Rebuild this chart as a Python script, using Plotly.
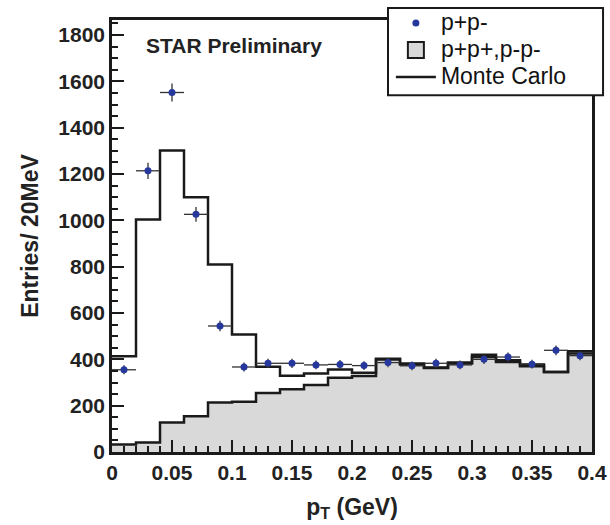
import numpy as np
import plotly.graph_objects as go

# bin centres of the 20 MeV pT bins (GeV)
pt_centers = [0.01, 0.03, 0.05, 0.07, 0.09, 0.11, 0.13, 0.15, 0.17, 0.19,
              0.21, 0.23, 0.25, 0.27, 0.29, 0.31, 0.33, 0.35, 0.37, 0.39]
bin_width = 0.02

# pi+pi- (data points)
unlike_sign = [355, 1214, 1552, 1026, 544, 367, 383, 383, 376, 378,
               373, 386, 372, 383, 376, 400, 410, 379, 439, 416]
unlike_err = [19, 35, 39, 32, 23, 19, 20, 20, 19, 19,
              19, 20, 19, 20, 19, 20, 20, 19, 21, 20]

# pi+pi+, pi-pi- (like sign background)
like_sign = [32, 41, 127, 154, 214, 217, 255, 271, 289, 321,
             328, 399, 378, 363, 382, 410, 389, 370, 345, 425]

# Monte Carlo
monte_carlo = [413, 1004, 1302, 1100, 810, 507, 368, 329, 339, 356,
               342, 403, 382, 365, 386, 420, 396, 378, 345, 435]

x_ticks = [0, 0.05, 0.1, 0.15, 0.2, 0.25, 0.3, 0.35, 0.4]
x_tick_text = ["0", "0.05", "0.1", "0.15", "0.2", "0.25", "0.3", "0.35", "0.4"]
y_ticks = [0, 200, 400, 600, 800, 1000, 1200, 1400, 1600, 1800]

edges = list(np.array(pt_centers) - bin_width / 2) + [pt_centers[-1] + bin_width / 2]

INK = "#1a1a1a"
TXT = "#222222"
FONT = "Liberation Sans"


def step_y(vals):
    return list(vals) + [vals[-1]]


def big(label):
    # larger legend text while keeping the compact row spacing
    return '<span style="font-size:23px">' + label + "</span>"


fig = go.Figure()

fig.add_trace(go.Scatter(
    x=edges, y=step_y(like_sign),
    name="p+p+,p-p-",
    mode="lines",
    line=dict(shape="hv", color=INK, width=2.5),
    fill="tozeroy", fillcolor="#d9d9d9",
    showlegend=False,
))

fig.add_trace(go.Scatter(
    x=edges, y=step_y(monte_carlo),
    name=big("Monte Carlo"),
    mode="lines",
    line=dict(shape="hv", color=INK, width=2.5),
    legendrank=3,
))

fig.add_trace(go.Scatter(
    x=pt_centers, y=unlike_sign,
    name=big("p+p-"),
    mode="markers",
    marker=dict(color="#26389c", size=7),
    error_x=dict(type="constant", value=bin_width / 2, color="#333333",
                 thickness=1.3, width=0),
    error_y=dict(type="data", array=unlike_err, color="#333333",
                 thickness=1.3, width=0),
    legendrank=1,
))

# legend entry for the filled histogram (box symbol)
fig.add_trace(go.Scatter(
    x=[None], y=[None],
    name=big("p+p+,p-p-"),
    mode="markers",
    marker=dict(symbol="square", size=19, color="#d9d9d9",
                line=dict(color=INK, width=2)),
    legendrank=2,
))

fig.add_annotation(
    text="STAR Preliminary", xref="paper", yref="paper",
    x=0.066, y=0.94, xanchor="left", yanchor="middle", showarrow=False,
    font=dict(family=FONT, size=21, color=TXT, weight="bold"),
)

# legend frame
fig.add_shape(
    type="rect", xref="paper", yref="paper",
    x0=0.575, x1=1.023, y0=0.826, y1=1.028,
    fillcolor="white", line=dict(color=INK, width=2), layer="above",
)

fig.update_layout(
    width=610, height=525,
    paper_bgcolor="white",
    plot_bgcolor="white",
    margin=dict(l=112, r=18, t=20, b=73, autoexpand=False),
    font=dict(family=FONT, color=TXT),
    showlegend=True,
    legend=dict(
        x=0.581, y=1.036, xanchor="left", yanchor="top",
        bgcolor="rgba(0,0,0,0)", borderwidth=0,
        font=dict(family=FONT, size=18.5, color="#111111"),
        itemwidth=40, tracegroupgap=0,
    ),
)

fig.update_xaxes(
    range=[0, 0.4],
    tickvals=x_ticks, ticktext=x_tick_text,
    ticks="inside", ticklen=12, tickwidth=1.5, tickcolor=INK,
    minor=dict(dtick=0.01, ticks="inside", ticklen=6, tickwidth=1.5,
               tickcolor=INK, showgrid=False),
    showline=True, linewidth=2.5, linecolor=INK, mirror=True,
    showgrid=False, zeroline=False,
    tickfont=dict(family=FONT, size=21, weight="bold", color=TXT),
    title=dict(text="p<sub>T</sub> (GeV)", standoff=16,
               font=dict(family=FONT, size=23, weight="bold", color=TXT)),
)

fig.update_yaxes(
    range=[0, 1865],
    tickvals=y_ticks,
    ticks="inside", ticklen=12, tickwidth=1.5, tickcolor=INK,
    minor=dict(dtick=50, ticks="inside", ticklen=6, tickwidth=1.5,
               tickcolor=INK, showgrid=False),
    showline=True, linewidth=2.5, linecolor=INK, mirror=True,
    showgrid=False, zeroline=False,
    tickfont=dict(family=FONT, size=21, weight="bold", color=TXT),
    title=dict(text="Entries/ 20MeV", standoff=14,
               font=dict(family=FONT, size=23, weight="bold", color=TXT)),
)

# drop the default page margin so the 610x525 figure fills the window exactly
fig.write_html(
    "out.html",
    config={"displayModeBar": False},
    post_script="document.body.style.margin='0';document.body.style.overflow='hidden';",
)
